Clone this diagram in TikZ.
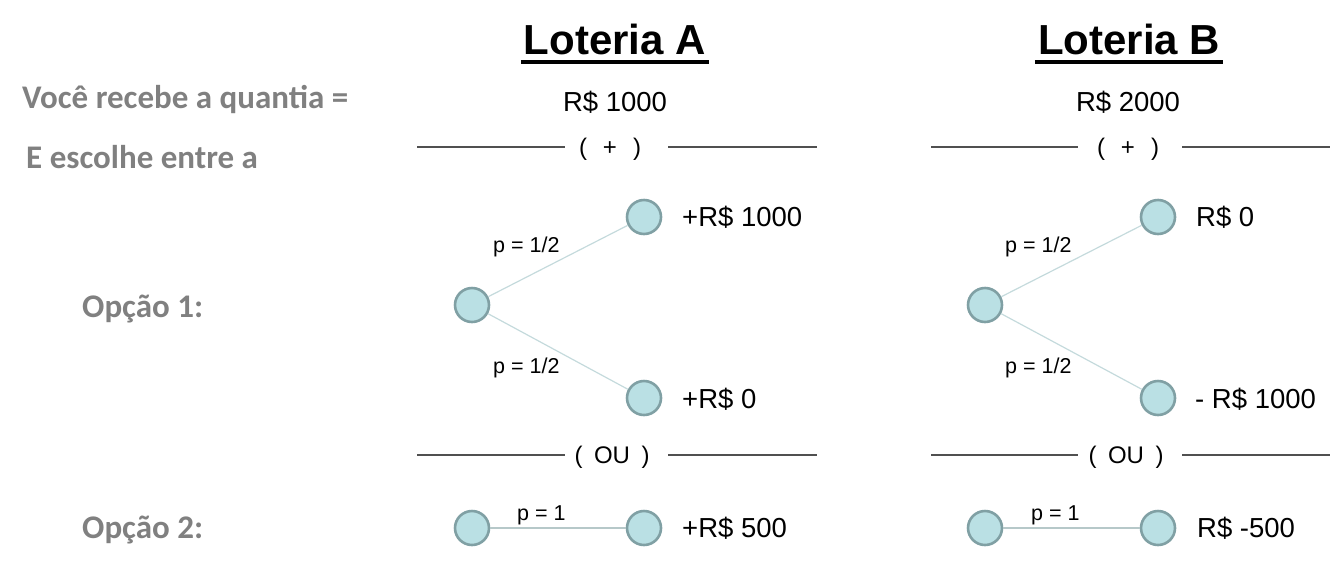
\documentclass[tikz,border=0pt]{standalone}
\usepackage{fontspec}
\setmainfont{Liberation Sans}
\newfontfamily\calibri{Carlito}
\usetikzlibrary{positioning}
\definecolor{mygray}{RGB}{128,128,128}
\definecolor{mycyan}{RGB}{186,224,228}
\definecolor{myrim}{RGB}{128,160,164}
\definecolor{myedge}{RGB}{196,218,220}
\definecolor{myrule}{RGB}{80,80,80}
\tikzset{
  ball/.style = {circle, draw = myrim, fill = mycyan, line width = 2.6pt, minimum size = 34pt, inner sep = 0pt},
  branch/.style = {myedge, line width = 1.2pt},
  sure/.style = {myedge!80!gray, line width = 2pt},
  prob/.style = {anchor = base west, inner sep = 0pt, font = \fontsize{21.5}{23}\selectfont},
  value/.style = {anchor = base west, inner sep = 0pt, font = \fontsize{27.5}{29}\selectfont},
  sep/.style = {anchor = base, inner sep = 0pt, font = \fontsize{24}{26}\selectfont},
  side/.style = {anchor = base west, inner sep = 0pt, text = mygray, font = \calibri\bfseries\fontsize{33}{35}\selectfont},
  title/.style = {anchor = base, inner xsep = 3pt, inner ysep = 0pt, font = \bfseries\fontsize{42}{44}\selectfont},
  rule/.style = {myrule, line width = 1.1pt}
}
\begin{document}
\begin{tikzpicture}[x = 1pt, y = -1pt]
\useasboundingbox (0, 0) rectangle (1337, 563);

% left column
\node[side] (recebe) at (22, 108) {Você recebe a quantia =};
\node[side] (escolhe) at (26, 168) {E escolhe entre a};
\node[side] (op1) at (82, 317) {Opção 1:};
\node[side] (op2) at (82, 538) {Opção 2:};

% titles
\node[title] (titA) at (615, 54) {Loteria A};
\node[title] (titB) at (1129, 54) {Loteria B};
\draw[line width = 4pt] ([yshift = -8pt]titA.base west) -- ([yshift = -8pt]titA.base east);
\draw[line width = 4pt] ([yshift = -8pt]titB.base west) -- ([yshift = -8pt]titB.base east);

\node[value, anchor = base] (baseA) at (615, 111) {R\$ 1000};
\node[value, anchor = base] (baseB) at (1128, 111) {R\$ 2000};

% separators
\node[sep] (plusA) at (610, 155) {(\hspace{16pt}+\hspace{16pt})};
\node[sep] (plusB) at (1128, 155) {(\hspace{16pt}+\hspace{16pt})};
\node[sep] (ouA) at (612, 463) {(\hspace{11.5pt}OU\hspace{11.5pt})};
\node[sep] (ouB) at (1126, 463) {(\hspace{11.5pt}OU\hspace{11.5pt})};
\coordinate (pA1) at (417, 147); \coordinate (pA2) at (565, 147);
\coordinate (pA3) at (668, 147); \coordinate (pA4) at (817, 147);
\coordinate (pB1) at (931, 147); \coordinate (pB2) at (1078, 147);
\coordinate (pB3) at (1182, 147); \coordinate (pB4) at (1330, 147);
\coordinate (oA1) at (417, 455); \coordinate (oA2) at (565, 455);
\coordinate (oA3) at (668, 455); \coordinate (oA4) at (817, 455);
\coordinate (oB1) at (931, 455); \coordinate (oB2) at (1078, 455);
\coordinate (oB3) at (1182, 455); \coordinate (oB4) at (1330, 455);
\draw[rule] (pA1) -- (pA2) (pA3) -- (pA4) (pB1) -- (pB2) (pB3) -- (pB4);
\draw[rule] (oA1) -- (oA2) (oA3) -- (oA4) (oB1) -- (oB2) (oB3) -- (oB4);

% lottery A
\node[ball] (rootA) at (472, 305) {};
\node[ball] (winA) at (644, 217) {};
\node[ball] (loseA) at (644, 398) {};
\node[ball] (startA) at (472, 528) {};
\node[ball] (sureA) at (644, 528) {};
\draw[branch] (rootA) -- (winA);
\draw[branch] (rootA) -- (loseA);
\draw[sure] (startA) -- (sureA);
\node[prob] at (493, 252) {p = 1/2};
\node[prob] at (493, 373) {p = 1/2};
\node[prob] at (517, 520) {p = 1};
\node[value] (vwinA) at (682, 226) {+R\$ 1000};
\node[value] (vloseA) at (682, 408) {+R\$ 0};
\node[value] (vsureA) at (682, 537) {+R\$ 500};

% lottery B
\node[ball] (rootB) at (985, 305) {};
\node[ball] (winB) at (1158, 217) {};
\node[ball] (loseB) at (1158, 398) {};
\node[ball] (startB) at (985, 528) {};
\node[ball] (sureB) at (1158, 528) {};
\draw[branch] (rootB) -- (winB);
\draw[branch] (rootB) -- (loseB);
\draw[sure] (startB) -- (sureB);
\node[prob] at (1005, 252) {p = 1/2};
\node[prob] at (1005, 373) {p = 1/2};
\node[prob] at (1031, 520) {p = 1};
\node[value] (vwinB) at (1196, 226) {R\$ 0};
\node[value] (vloseB) at (1195, 408) {- R\$ 1000};
\node[value] (vsureB) at (1197, 537) {R\$ -500};
\end{tikzpicture}
\end{document}
